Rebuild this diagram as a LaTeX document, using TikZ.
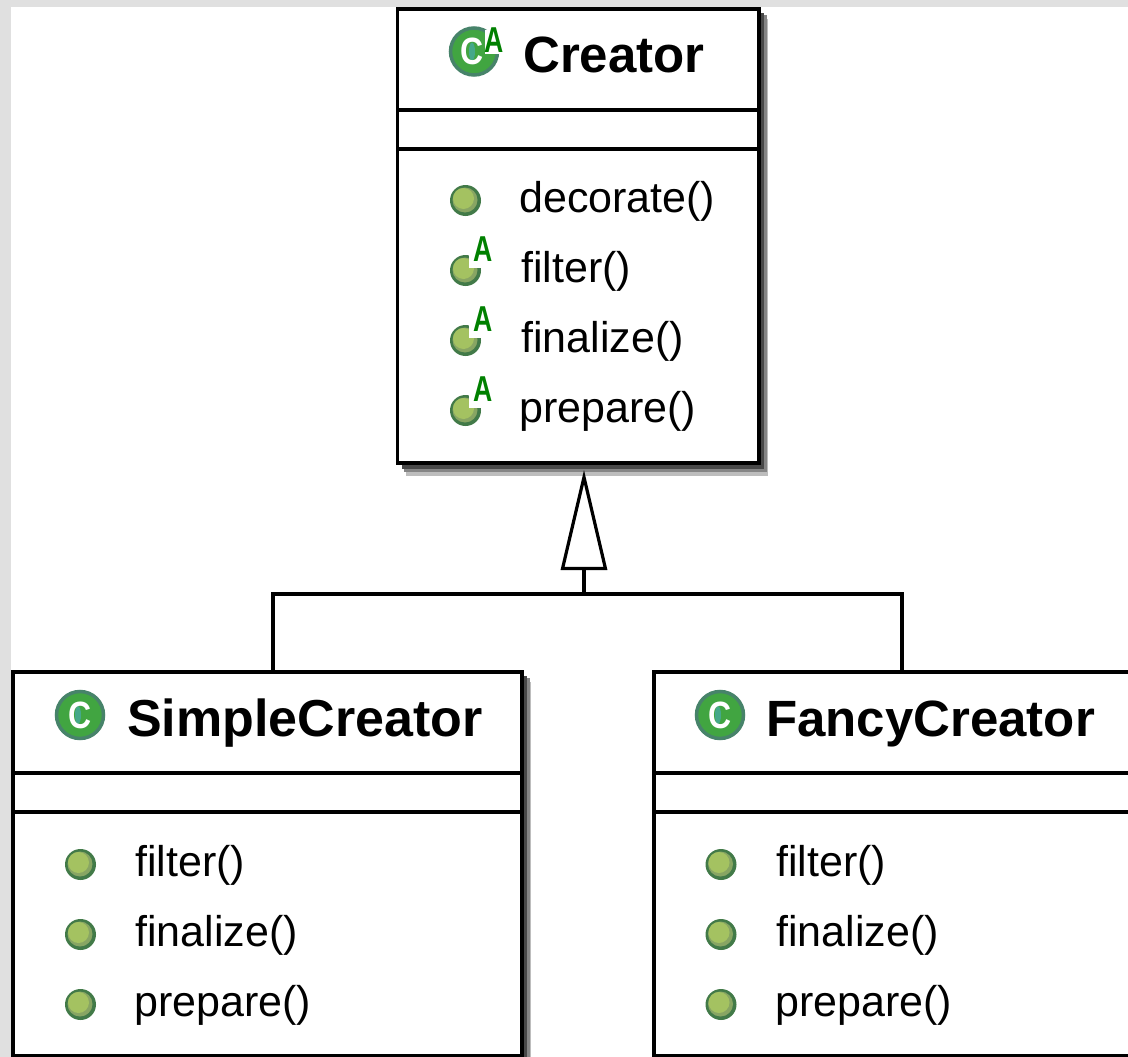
\documentclass[tikz,border=0pt]{standalone}
\usepackage{fontspec}
\setmainfont{Liberation Sans}
\usetikzlibrary{arrows.meta}
\definecolor{pagegray}{HTML}{E0E0E0}
\definecolor{shadeA}{HTML}{BDBDBD}
\definecolor{shadeB}{HTML}{858585}
\definecolor{shadeC}{HTML}{484848}
\definecolor{iconfill}{HTML}{41A541}
\definecolor{iconedge}{HTML}{47836A}
\definecolor{iconcore}{HTML}{45A88A}
\definecolor{dotedge}{HTML}{427A48}
\definecolor{dotmid}{HTML}{88A563}
\definecolor{dotlight}{HTML}{A4C261}
\definecolor{absgreen}{HTML}{008000}
\tikzset{
  umlbox/.style={draw=black,fill=white,line width=3.6pt,rectangle,outer sep=0pt,inner sep=0pt,anchor=north west},
  rowline/.style={draw=black,line width=3.6pt},
  conn/.style={draw=black,line width=3.4pt},
  titletext/.style={anchor=base west,inner sep=0pt,font=\fontsize{51}{51}\selectfont\bfseries},
  methodtext/.style={anchor=base west,inner sep=0pt,font=\fontsize{43}{43}\selectfont},
  dot/.style={circle,fill=dotedge,minimum size=31pt,inner sep=0pt,outer sep=0pt,
    path picture={
      \fill[dotmid] (path picture bounding box.center) ++(-0.5pt,0.5pt) circle (12.5pt);
      \fill[dotlight] (path picture bounding box.center) ++(-2pt,2pt) circle (10.5pt);
    }},
  classicon/.style={circle,draw=iconedge,fill=iconfill,line width=3.5pt,minimum size=47pt,inner sep=0pt,outer sep=0pt},
  classletter/.style={inner sep=0pt,text=white,xscale=0.84,font=\fontsize{38}{38}\selectfont\bfseries},
  notch/.style={fill=white},
  abstext/.style={inner sep=0pt,text=absgreen,xscale=0.74,font=\fontsize{36}{36}\selectfont\bfseries},
}
\begin{document}
\begin{tikzpicture}[x=1pt,y=-1pt]
\useasboundingbox (0,0) rectangle (1128,1057);
\clip (0,0) rectangle (1128,1057);
\fill[pagegray] (0,0) rectangle (1128,1057);
\fill[white] (11,7) rectangle (1128,1057);

% shadows are painted first, so boxes are placed with invisible nodes
\node[umlbox,draw=none,fill=none,minimum width=361.5pt,minimum height=454pt] (creatorS) at (397.5,9) {};
\node[umlbox,draw=none,fill=none,minimum width=509pt,minimum height=384pt] (simpleS) at (13,672) {};
\node[umlbox,draw=none,fill=none,minimum width=520pt,minimum height=384pt] (fancyS) at (654,672) {};
\foreach \b in {creatorS,simpleS}{
  \fill[shadeA] ([shift={(8,10)}]\b.north west) rectangle ([shift={(9,13)}]\b.south east);
  \fill[shadeB] ([shift={(6,6)}]\b.north west) rectangle ([shift={(8,9)}]\b.south east);
  \fill[shadeC] ([shift={(4,4)}]\b.north west) rectangle ([shift={(5,6)}]\b.south east);
}

% boxes
\node[umlbox,minimum width=361.5pt,minimum height=454pt] (creator) at (397.5,9) {};
\node[umlbox,minimum width=509pt,minimum height=384pt] (simple) at (13,672) {};
\node[umlbox,minimum width=520pt,minimum height=384pt] (fancy) at (654,672) {};

% compartment rules
\draw[rowline] (creator.west |- 0,110) -- (creator.east |- 0,110);
\draw[rowline] (creator.west |- 0,149) -- (creator.east |- 0,149);
\draw[rowline] (simple.west |- 0,773) -- (simple.east |- 0,773);
\draw[rowline] (simple.west |- 0,812) -- (simple.east |- 0,812);
\draw[rowline] (fancy.west |- 0,773) -- (fancy.east |- 0,773);
\draw[rowline] (fancy.west |- 0,812) -- (fancy.east |- 0,812);

% connectors
\coordinate (junction) at (584,594);
\coordinate (apex) at (584,470);
\coordinate (simpletop) at (273,672);
\coordinate (fancytop) at (902,672);
\draw[conn] (simpletop) -- (273,594) -- (902,594) -- (fancytop);
\draw[conn,-{Triangle[open,fill=white,length=100pt,width=46pt,line width=3.2pt]}] (junction) -- (apex);

% titles
\node[classicon] (creatoricon) at (474,51.5) {};
\fill[iconcore] (472,51.5) ellipse (3 and 9);
\node[classletter] (creatorC) at (472,51.5) {C};
\fill[notch] (485,30) rectangle (505,54);
\node[abstext] (creatorabs) at (494.5,40) {A};
\node[titletext] (creatortitle) at (523,72.5) {Creator};
\node[classicon] (simpleicon) at (80,715) {};
\fill[iconcore] (78,715) ellipse (3 and 9);
\node[classletter] (simpleC) at (80,715) {C};
\node[titletext,font=\fontsize{52}{52}\selectfont\bfseries] (simpletitle) at (127,736) {SimpleCreator};
\node[classicon] (fancyicon) at (720,715) {};
\fill[iconcore] (718,715) ellipse (3 and 9);
\node[classletter] (fancyC) at (720,715) {C};
\node[titletext] (fancytitle) at (766,736) {FancyCreator};

% Creator methods
\node[dot] (d1) at (465.5,200.5) {};
\node[methodtext] (m1) at (519,212) {decorate()};
\foreach \n/\yc/\yb/\t/\tx in {2/270.5/282/filter()/521,3/340.5/352/finalize()/521,4/410.5/422/prepare()/519}{
  \node[dot] (d\n) at (465.5,\yc) {};
  \fill[notch] (469,\yc-21) rectangle (484,\yc-3);
  \node[abstext] (a\n) at (483,\yc-21) {A};
  \node[methodtext] (m\n) at (\tx,\yb) {\t};
}

% SimpleCreator and FancyCreator methods
\foreach \p/\dx/\tx in {s/80.5/135,f/721/776}{
  \node[dot] (\p1) at (\dx,864.5) {};
  \node[methodtext] (\p t1) at (\tx,876) {filter()};
  \node[dot] (\p2) at (\dx,934.5) {};
  \node[methodtext] (\p t2) at (\tx,946) {finalize()};
  \node[dot] (\p3) at (\dx,1004.5) {};
  \node[methodtext] (\p t3) at (\tx-1,1016) {prepare()};
}
\end{tikzpicture}
\end{document}
